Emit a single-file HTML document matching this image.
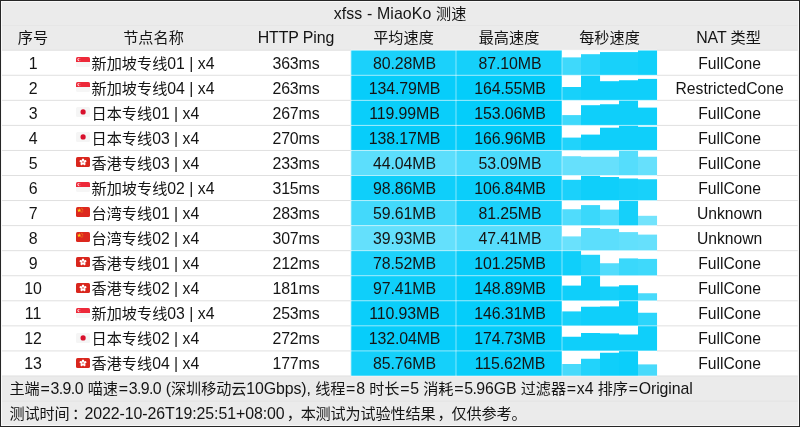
<!DOCTYPE html>
<html lang="zh"><head><meta charset="utf-8"><title>xfss - MiaoKo 测速</title>
<style>
html,body{margin:0;padding:0;}
body{width:800px;height:427px;overflow:hidden;background:#262626;position:relative;
font-family:"Liberation Sans","Noto Sans CJK SC",sans-serif;font-size:15.9px;letter-spacing:-0.1px;color:#141414;}
.c{font-size:15.15px;letter-spacing:0;}
#w{position:absolute;left:1px;top:1px;width:797.9px;height:424.8px;background:#f8f8f8;}
#g{position:absolute;left:1px;top:1px;right:1px;bottom:1px;background:#ebebeb;}
#tx{position:absolute;left:0;top:0;width:800px;height:427px;filter:blur(.3px);}
.t{position:absolute;white-space:nowrap;line-height:25px;height:25px;text-align:center;}
.l{text-align:left;}
.n{font-size:15.7px;letter-spacing:0;}
.nm{font-size:15.8px;letter-spacing:0;}
.ti{letter-spacing:0.12px;}
.f1{letter-spacing:-0.1px;}
.f1 .c{letter-spacing:-0.1px;}
.f1 i{font-style:normal;margin:0 .85px;}
.f1 b{font-weight:normal;margin:0 -.5px;}
.f2{letter-spacing:-0.07px;}
.f2 i{font-style:normal;margin-left:1px;position:relative;left:1px;}
.f2 b{font-weight:normal;position:relative;left:2.5px;}
.f2 .c{letter-spacing:-0.15px;}
.r{position:absolute;}
.fl{position:absolute;}
.hl{position:absolute;left:2px;right:2.2px;height:1px;background:#e0e0e0;}
</style></head><body><div id="w"><div id="g"></div></div>

<div id="tx">
<div class="t ti" style="left:0;width:800px;top:1px">xfss - MiaoKo <span class="c">测速</span></div>
<div class="t" style="left:0px;width:66px;top:25px"><span class="c">序号</span></div>
<div class="t" style="left:66px;width:175px;top:25px"><span class="c">节点名称</span></div>
<div class="t" style="left:241px;width:110px;top:25px">HTTP Ping</div>
<div class="t" style="left:351px;width:105px;top:25px"><span class="c">平均速度</span></div>
<div class="t" style="left:456px;width:106px;top:25px"><span class="c">最高速度</span></div>
<div class="t" style="left:562px;width:95px;top:25px"><span class="c">每秒速度</span></div>
<div class="t" style="left:657px;width:143px;top:25px">NAT <span class="c">类型</span></div>
<svg class="r" style="left:0;top:0" width="800" height="427" viewBox="0 0 800 427"><rect x="2" y="50.2" width="795.8" height="325.78" fill="#fff"/><rect x="350.8" y="50.20" width="105.2" height="25.06" fill="#1bd1fb"/><rect x="456" y="50.20" width="106" height="25.06" fill="#15d0fa"/><rect x="562.00" y="57.40" width="19.05" height="17.86" fill="#3fd9fb"/><rect x="581.00" y="54.20" width="19.05" height="21.06" fill="#29d4fb"/><rect x="600.00" y="52.10" width="19.05" height="23.16" fill="#18d1fa"/><rect x="619.00" y="52.10" width="19.05" height="23.16" fill="#18d1fa"/><rect x="638.00" y="50.20" width="19.05" height="25.06" fill="#12d0fa"/><rect x="350.8" y="75.26" width="105.2" height="25.06" fill="#07cdfa"/><rect x="456" y="75.26" width="106" height="25.06" fill="#04cdfa"/><rect x="562.00" y="87.00" width="19.05" height="13.32" fill="#18d1fa"/><rect x="581.00" y="75.26" width="19.05" height="25.06" fill="#0fcffa"/><rect x="600.00" y="81.20" width="19.05" height="19.12" fill="#0fcffa"/><rect x="619.00" y="80.25" width="19.05" height="20.07" fill="#0fcffa"/><rect x="638.00" y="78.90" width="19.05" height="21.42" fill="#0fcffa"/><rect x="350.8" y="100.32" width="105.2" height="25.06" fill="#0acefa"/><rect x="456" y="100.32" width="106" height="25.06" fill="#04cdfa"/><rect x="562.00" y="115.10" width="19.05" height="10.28" fill="#3fd9fb"/><rect x="581.00" y="105.20" width="19.05" height="20.18" fill="#0fcffa"/><rect x="600.00" y="104.25" width="19.05" height="21.13" fill="#0fcffa"/><rect x="619.00" y="100.32" width="19.05" height="25.06" fill="#0fcffa"/><rect x="638.00" y="107.60" width="19.05" height="17.78" fill="#0fcffa"/><rect x="350.8" y="125.38" width="105.2" height="25.06" fill="#07cdfa"/><rect x="456" y="125.38" width="106" height="25.06" fill="#04cdfa"/><rect x="562.00" y="137.60" width="19.05" height="12.84" fill="#21d3fb"/><rect x="581.00" y="134.60" width="19.05" height="15.84" fill="#0fcffa"/><rect x="600.00" y="127.70" width="19.05" height="22.74" fill="#0fcffa"/><rect x="619.00" y="125.38" width="19.05" height="25.06" fill="#0fcffa"/><rect x="638.00" y="126.75" width="19.05" height="23.69" fill="#0fcffa"/><rect x="350.8" y="150.44" width="105.2" height="25.06" fill="#5cdefc"/><rect x="456" y="150.44" width="106" height="25.06" fill="#4ddbfc"/><rect x="562.00" y="156.20" width="19.05" height="19.30" fill="#66e0fc"/><rect x="581.00" y="156.75" width="19.05" height="18.75" fill="#66e0fc"/><rect x="600.00" y="156.75" width="19.05" height="18.75" fill="#66e0fc"/><rect x="619.00" y="150.44" width="19.05" height="25.06" fill="#55ddfc"/><rect x="638.00" y="156.75" width="19.05" height="18.75" fill="#66e0fc"/><rect x="350.8" y="175.50" width="105.2" height="25.06" fill="#0fcffa"/><rect x="456" y="175.50" width="106" height="25.06" fill="#0bcefa"/><rect x="562.00" y="179.80" width="19.05" height="20.76" fill="#1bd1fb"/><rect x="581.00" y="175.50" width="19.05" height="25.06" fill="#0fcffa"/><rect x="600.00" y="177.00" width="19.05" height="23.56" fill="#0fcffa"/><rect x="619.00" y="178.50" width="19.05" height="22.06" fill="#15d0fa"/><rect x="638.00" y="179.25" width="19.05" height="21.31" fill="#18d1fa"/><rect x="350.8" y="200.56" width="105.2" height="25.06" fill="#43d9fb"/><rect x="456" y="200.56" width="106" height="25.06" fill="#1bd1fb"/><rect x="562.00" y="209.25" width="19.05" height="16.37" fill="#50dcfc"/><rect x="581.00" y="205.10" width="19.05" height="20.52" fill="#3ad8fb"/><rect x="600.00" y="209.60" width="19.05" height="16.02" fill="#50dcfc"/><rect x="619.00" y="200.56" width="19.05" height="25.06" fill="#15d0fa"/><rect x="638.00" y="215.80" width="19.05" height="9.82" fill="#72e3fc"/><rect x="350.8" y="225.62" width="105.2" height="25.06" fill="#64e0fc"/><rect x="456" y="225.62" width="106" height="25.06" fill="#57ddfc"/><rect x="562.00" y="236.40" width="19.05" height="14.28" fill="#6ae1fc"/><rect x="581.00" y="228.00" width="19.05" height="22.68" fill="#5cdefc"/><rect x="600.00" y="228.90" width="19.05" height="21.78" fill="#5cdefc"/><rect x="619.00" y="232.10" width="19.05" height="18.58" fill="#62e0fc"/><rect x="638.00" y="234.60" width="19.05" height="16.08" fill="#66e0fc"/><rect x="350.8" y="250.68" width="105.2" height="25.06" fill="#1ed2fb"/><rect x="456" y="250.68" width="106" height="25.06" fill="#0ccefa"/><rect x="562.00" y="250.68" width="19.05" height="25.06" fill="#0fcffa"/><rect x="581.00" y="254.80" width="19.05" height="20.94" fill="#22d3fb"/><rect x="600.00" y="263.25" width="19.05" height="12.49" fill="#52dcfc"/><rect x="619.00" y="258.40" width="19.05" height="17.34" fill="#3ad8fb"/><rect x="638.00" y="258.90" width="19.05" height="16.84" fill="#3fd9fb"/><rect x="350.8" y="275.74" width="105.2" height="25.06" fill="#0fcffa"/><rect x="456" y="275.74" width="106" height="25.06" fill="#04cdfa"/><rect x="562.00" y="285.60" width="19.05" height="15.20" fill="#0fcffa"/><rect x="581.00" y="275.74" width="19.05" height="25.06" fill="#0fcffa"/><rect x="600.00" y="286.50" width="19.05" height="14.30" fill="#15d0fa"/><rect x="619.00" y="285.20" width="19.05" height="15.60" fill="#0fcffa"/><rect x="638.00" y="293.25" width="19.05" height="7.55" fill="#48dafb"/><rect x="350.8" y="300.80" width="105.2" height="25.06" fill="#0bcefa"/><rect x="456" y="300.80" width="106" height="25.06" fill="#04cdfa"/><rect x="562.00" y="311.40" width="19.05" height="14.46" fill="#18d1fa"/><rect x="581.00" y="306.75" width="19.05" height="19.11" fill="#0fcffa"/><rect x="600.00" y="306.40" width="19.05" height="19.46" fill="#0fcffa"/><rect x="619.00" y="300.80" width="19.05" height="25.06" fill="#0fcffa"/><rect x="638.00" y="312.75" width="19.05" height="13.11" fill="#2cd5fb"/><rect x="350.8" y="325.86" width="105.2" height="25.06" fill="#07cdfa"/><rect x="456" y="325.86" width="106" height="25.06" fill="#04cdfa"/><rect x="562.00" y="336.75" width="19.05" height="14.17" fill="#0fcffa"/><rect x="581.00" y="333.00" width="19.05" height="17.92" fill="#0fcffa"/><rect x="600.00" y="333.40" width="19.05" height="17.52" fill="#0fcffa"/><rect x="619.00" y="334.50" width="19.05" height="16.42" fill="#0fcffa"/><rect x="638.00" y="325.86" width="19.05" height="25.06" fill="#0fcffa"/><rect x="350.8" y="350.92" width="105.2" height="25.06" fill="#15d0fa"/><rect x="456" y="350.92" width="106" height="25.06" fill="#0acefa"/><rect x="562.00" y="364.00" width="19.05" height="11.98" fill="#48dafb"/><rect x="581.00" y="358.75" width="19.05" height="17.23" fill="#22d3fb"/><rect x="600.00" y="352.75" width="19.05" height="23.23" fill="#0fcffa"/><rect x="619.00" y="350.92" width="19.05" height="25.06" fill="#0bcefa"/><rect x="638.00" y="364.40" width="19.05" height="11.58" fill="#48dafb"/><rect x="2" y="49.70" width="349" height="1" fill="#e0e0e0"/><rect x="657" y="49.70" width="140.79999999999995" height="1" fill="#e0e0e0"/><rect x="351" y="49.70" width="306" height="1" fill="#fff" fill-opacity=".5"/><rect x="2" y="74.76" width="349" height="1" fill="#e0e0e0"/><rect x="657" y="74.76" width="140.79999999999995" height="1" fill="#e0e0e0"/><rect x="351" y="74.76" width="306" height="1" fill="#fff" fill-opacity=".5"/><rect x="2" y="99.82" width="349" height="1" fill="#e0e0e0"/><rect x="657" y="99.82" width="140.79999999999995" height="1" fill="#e0e0e0"/><rect x="351" y="99.82" width="306" height="1" fill="#fff" fill-opacity=".5"/><rect x="2" y="124.88" width="349" height="1" fill="#e0e0e0"/><rect x="657" y="124.88" width="140.79999999999995" height="1" fill="#e0e0e0"/><rect x="351" y="124.88" width="306" height="1" fill="#fff" fill-opacity=".5"/><rect x="2" y="149.94" width="349" height="1" fill="#e0e0e0"/><rect x="657" y="149.94" width="140.79999999999995" height="1" fill="#e0e0e0"/><rect x="351" y="149.94" width="306" height="1" fill="#fff" fill-opacity=".5"/><rect x="2" y="175.00" width="349" height="1" fill="#e0e0e0"/><rect x="657" y="175.00" width="140.79999999999995" height="1" fill="#e0e0e0"/><rect x="351" y="175.00" width="306" height="1" fill="#fff" fill-opacity=".5"/><rect x="2" y="200.06" width="349" height="1" fill="#e0e0e0"/><rect x="657" y="200.06" width="140.79999999999995" height="1" fill="#e0e0e0"/><rect x="351" y="200.06" width="306" height="1" fill="#fff" fill-opacity=".5"/><rect x="2" y="225.12" width="349" height="1" fill="#e0e0e0"/><rect x="657" y="225.12" width="140.79999999999995" height="1" fill="#e0e0e0"/><rect x="351" y="225.12" width="306" height="1" fill="#fff" fill-opacity=".5"/><rect x="2" y="250.18" width="349" height="1" fill="#e0e0e0"/><rect x="657" y="250.18" width="140.79999999999995" height="1" fill="#e0e0e0"/><rect x="351" y="250.18" width="306" height="1" fill="#fff" fill-opacity=".5"/><rect x="2" y="275.24" width="349" height="1" fill="#e0e0e0"/><rect x="657" y="275.24" width="140.79999999999995" height="1" fill="#e0e0e0"/><rect x="351" y="275.24" width="306" height="1" fill="#fff" fill-opacity=".5"/><rect x="2" y="300.30" width="349" height="1" fill="#e0e0e0"/><rect x="657" y="300.30" width="140.79999999999995" height="1" fill="#e0e0e0"/><rect x="351" y="300.30" width="306" height="1" fill="#fff" fill-opacity=".5"/><rect x="2" y="325.36" width="349" height="1" fill="#e0e0e0"/><rect x="657" y="325.36" width="140.79999999999995" height="1" fill="#e0e0e0"/><rect x="351" y="325.36" width="306" height="1" fill="#fff" fill-opacity=".5"/><rect x="2" y="350.42" width="349" height="1" fill="#e0e0e0"/><rect x="657" y="350.42" width="140.79999999999995" height="1" fill="#e0e0e0"/><rect x="351" y="350.42" width="306" height="1" fill="#fff" fill-opacity=".5"/><rect x="2" y="375.48" width="349" height="1" fill="#e0e0e0"/><rect x="657" y="375.48" width="140.79999999999995" height="1" fill="#e0e0e0"/><rect x="351" y="375.48" width="306" height="1" fill="#fff" fill-opacity=".5"/><rect x="350.5" y="50.2" width="1" height="325.78" fill="#fff" fill-opacity=".5"/><rect x="455.5" y="50.2" width="1" height="325.78" fill="#fff" fill-opacity=".5"/><rect x="561.5" y="50.2" width="1" height="325.78" fill="#fff" fill-opacity=".5"/><rect x="2" y="24.9" width="795.8" height="1" fill="#e6e6e6"/><rect x="2" y="400.6" width="795.8" height="1" fill="#e3e3e3"/></svg>
<div class="t" style="left:0px;width:66px;top:50.70px">1</div>
<svg class="fl" style="left:75.6px;top:57.0px" width="14" height="10" viewBox="0 0 14 10"><rect width="14" height="10" rx="1.6" fill="#f6f6f6"/><path d="M0 5V1.6Q0 0 1.6 0H12.4Q14 0 14 1.6V5Z" fill="#ed2939"/><circle cx="3.1" cy="2.6" r="1.6" fill="#fff"/><circle cx="3.8" cy="2.6" r="1.4" fill="#ed2939"/></svg>
<div class="t l nm" style="left:91.6px;top:50.70px"><span class="c">新加坡专线</span>01 | x4</div>
<div class="t" style="left:241px;width:110px;top:50.70px">363ms</div>
<div class="t" style="left:352px;width:105px;top:50.70px">80.28MB</div>
<div class="t" style="left:457px;width:106px;top:50.70px">87.10MB</div>
<div class="t n" style="left:658.6px;width:142px;top:50.70px">FullCone</div>
<div class="t" style="left:0px;width:66px;top:75.76px">2</div>
<svg class="fl" style="left:75.6px;top:82.06px" width="14" height="10" viewBox="0 0 14 10"><rect width="14" height="10" rx="1.6" fill="#f6f6f6"/><path d="M0 5V1.6Q0 0 1.6 0H12.4Q14 0 14 1.6V5Z" fill="#ed2939"/><circle cx="3.1" cy="2.6" r="1.6" fill="#fff"/><circle cx="3.8" cy="2.6" r="1.4" fill="#ed2939"/></svg>
<div class="t l nm" style="left:91.6px;top:75.76px"><span class="c">新加坡专线</span>04 | x4</div>
<div class="t" style="left:241px;width:110px;top:75.76px">263ms</div>
<div class="t" style="left:352px;width:105px;top:75.76px">134.79MB</div>
<div class="t" style="left:457px;width:106px;top:75.76px">164.55MB</div>
<div class="t n" style="left:658.6px;width:142px;top:75.76px">RestrictedCone</div>
<div class="t" style="left:0px;width:66px;top:100.82px">3</div>
<svg class="fl" style="left:75.6px;top:107.12px" width="14" height="10" viewBox="0 0 14 10"><rect width="14" height="10" rx="1.6" fill="#f5f5f5"/><circle cx="7.1" cy="4.9" r="2.6" fill="#d8102c"/></svg>
<div class="t l nm" style="left:91.6px;top:100.82px"><span class="c">日本专线</span>01 | x4</div>
<div class="t" style="left:241px;width:110px;top:100.82px">267ms</div>
<div class="t" style="left:352px;width:105px;top:100.82px">119.99MB</div>
<div class="t" style="left:457px;width:106px;top:100.82px">153.06MB</div>
<div class="t n" style="left:658.6px;width:142px;top:100.82px">FullCone</div>
<div class="t" style="left:0px;width:66px;top:125.88px">4</div>
<svg class="fl" style="left:75.6px;top:132.18px" width="14" height="10" viewBox="0 0 14 10"><rect width="14" height="10" rx="1.6" fill="#f5f5f5"/><circle cx="7.1" cy="4.9" r="2.6" fill="#d8102c"/></svg>
<div class="t l nm" style="left:91.6px;top:125.88px"><span class="c">日本专线</span>03 | x4</div>
<div class="t" style="left:241px;width:110px;top:125.88px">270ms</div>
<div class="t" style="left:352px;width:105px;top:125.88px">138.17MB</div>
<div class="t" style="left:457px;width:106px;top:125.88px">166.96MB</div>
<div class="t n" style="left:658.6px;width:142px;top:125.88px">FullCone</div>
<div class="t" style="left:0px;width:66px;top:150.94px">5</div>
<svg class="fl" style="left:75.6px;top:157.24px" width="14" height="10" viewBox="0 0 14 10"><rect width="14" height="10" rx="1.6" fill="#d9261d"/><g fill="#fff" transform="translate(7 5)"><ellipse cx="0" cy="-1.9" rx="1.25" ry="1.7"/><ellipse cx="0" cy="-1.9" rx="1.25" ry="1.7" transform="rotate(72)"/><ellipse cx="0" cy="-1.9" rx="1.25" ry="1.7" transform="rotate(144)"/><ellipse cx="0" cy="-1.9" rx="1.25" ry="1.7" transform="rotate(216)"/><ellipse cx="0" cy="-1.9" rx="1.25" ry="1.7" transform="rotate(288)"/></g><circle cx="7" cy="5" r="0.7" fill="#d9261d"/></svg>
<div class="t l nm" style="left:91.6px;top:150.94px"><span class="c">香港专线</span>03 | x4</div>
<div class="t" style="left:241px;width:110px;top:150.94px">233ms</div>
<div class="t" style="left:352px;width:105px;top:150.94px">44.04MB</div>
<div class="t" style="left:457px;width:106px;top:150.94px">53.09MB</div>
<div class="t n" style="left:658.6px;width:142px;top:150.94px">FullCone</div>
<div class="t" style="left:0px;width:66px;top:176.00px">6</div>
<svg class="fl" style="left:75.6px;top:182.3px" width="14" height="10" viewBox="0 0 14 10"><rect width="14" height="10" rx="1.6" fill="#f6f6f6"/><path d="M0 5V1.6Q0 0 1.6 0H12.4Q14 0 14 1.6V5Z" fill="#ed2939"/><circle cx="3.1" cy="2.6" r="1.6" fill="#fff"/><circle cx="3.8" cy="2.6" r="1.4" fill="#ed2939"/></svg>
<div class="t l nm" style="left:91.6px;top:176.00px"><span class="c">新加坡专线</span>02 | x4</div>
<div class="t" style="left:241px;width:110px;top:176.00px">315ms</div>
<div class="t" style="left:352px;width:105px;top:176.00px">98.86MB</div>
<div class="t" style="left:457px;width:106px;top:176.00px">106.84MB</div>
<div class="t n" style="left:658.6px;width:142px;top:176.00px">FullCone</div>
<div class="t" style="left:0px;width:66px;top:201.06px">7</div>
<svg class="fl" style="left:75.6px;top:207.36px" width="14" height="10" viewBox="0 0 14 10"><rect width="14" height="10" rx="1.6" fill="#dc281e"/><path d="M3.2 1.1l.55 1.6h1.7l-1.38 1 .53 1.62-1.4-1-1.4 1 .53-1.62-1.38-1h1.7z" fill="#fbd116"/><circle cx="5.9" cy="1.3" r=".45" fill="#fbd116"/><circle cx="6.8" cy="2.4" r=".45" fill="#fbd116"/><circle cx="6.8" cy="3.9" r=".45" fill="#fbd116"/><circle cx="5.9" cy="5" r=".45" fill="#fbd116"/></svg>
<div class="t l nm" style="left:91.6px;top:201.06px"><span class="c">台湾专线</span>01 | x4</div>
<div class="t" style="left:241px;width:110px;top:201.06px">283ms</div>
<div class="t" style="left:352px;width:105px;top:201.06px">59.61MB</div>
<div class="t" style="left:457px;width:106px;top:201.06px">81.25MB</div>
<div class="t n" style="left:658.6px;width:142px;top:201.06px">Unknown</div>
<div class="t" style="left:0px;width:66px;top:226.12px">8</div>
<svg class="fl" style="left:75.6px;top:232.42px" width="14" height="10" viewBox="0 0 14 10"><rect width="14" height="10" rx="1.6" fill="#dc281e"/><path d="M3.2 1.1l.55 1.6h1.7l-1.38 1 .53 1.62-1.4-1-1.4 1 .53-1.62-1.38-1h1.7z" fill="#fbd116"/><circle cx="5.9" cy="1.3" r=".45" fill="#fbd116"/><circle cx="6.8" cy="2.4" r=".45" fill="#fbd116"/><circle cx="6.8" cy="3.9" r=".45" fill="#fbd116"/><circle cx="5.9" cy="5" r=".45" fill="#fbd116"/></svg>
<div class="t l nm" style="left:91.6px;top:226.12px"><span class="c">台湾专线</span>02 | x4</div>
<div class="t" style="left:241px;width:110px;top:226.12px">307ms</div>
<div class="t" style="left:352px;width:105px;top:226.12px">39.93MB</div>
<div class="t" style="left:457px;width:106px;top:226.12px">47.41MB</div>
<div class="t n" style="left:658.6px;width:142px;top:226.12px">Unknown</div>
<div class="t" style="left:0px;width:66px;top:251.18px">9</div>
<svg class="fl" style="left:75.6px;top:257.48px" width="14" height="10" viewBox="0 0 14 10"><rect width="14" height="10" rx="1.6" fill="#d9261d"/><g fill="#fff" transform="translate(7 5)"><ellipse cx="0" cy="-1.9" rx="1.25" ry="1.7"/><ellipse cx="0" cy="-1.9" rx="1.25" ry="1.7" transform="rotate(72)"/><ellipse cx="0" cy="-1.9" rx="1.25" ry="1.7" transform="rotate(144)"/><ellipse cx="0" cy="-1.9" rx="1.25" ry="1.7" transform="rotate(216)"/><ellipse cx="0" cy="-1.9" rx="1.25" ry="1.7" transform="rotate(288)"/></g><circle cx="7" cy="5" r="0.7" fill="#d9261d"/></svg>
<div class="t l nm" style="left:91.6px;top:251.18px"><span class="c">香港专线</span>01 | x4</div>
<div class="t" style="left:241px;width:110px;top:251.18px">212ms</div>
<div class="t" style="left:352px;width:105px;top:251.18px">78.52MB</div>
<div class="t" style="left:457px;width:106px;top:251.18px">101.25MB</div>
<div class="t n" style="left:658.6px;width:142px;top:251.18px">FullCone</div>
<div class="t" style="left:0px;width:66px;top:276.24px">10</div>
<svg class="fl" style="left:75.6px;top:282.54px" width="14" height="10" viewBox="0 0 14 10"><rect width="14" height="10" rx="1.6" fill="#d9261d"/><g fill="#fff" transform="translate(7 5)"><ellipse cx="0" cy="-1.9" rx="1.25" ry="1.7"/><ellipse cx="0" cy="-1.9" rx="1.25" ry="1.7" transform="rotate(72)"/><ellipse cx="0" cy="-1.9" rx="1.25" ry="1.7" transform="rotate(144)"/><ellipse cx="0" cy="-1.9" rx="1.25" ry="1.7" transform="rotate(216)"/><ellipse cx="0" cy="-1.9" rx="1.25" ry="1.7" transform="rotate(288)"/></g><circle cx="7" cy="5" r="0.7" fill="#d9261d"/></svg>
<div class="t l nm" style="left:91.6px;top:276.24px"><span class="c">香港专线</span>02 | x4</div>
<div class="t" style="left:241px;width:110px;top:276.24px">181ms</div>
<div class="t" style="left:352px;width:105px;top:276.24px">97.41MB</div>
<div class="t" style="left:457px;width:106px;top:276.24px">148.89MB</div>
<div class="t n" style="left:658.6px;width:142px;top:276.24px">FullCone</div>
<div class="t" style="left:0px;width:66px;top:301.30px">11</div>
<svg class="fl" style="left:75.6px;top:307.6px" width="14" height="10" viewBox="0 0 14 10"><rect width="14" height="10" rx="1.6" fill="#f6f6f6"/><path d="M0 5V1.6Q0 0 1.6 0H12.4Q14 0 14 1.6V5Z" fill="#ed2939"/><circle cx="3.1" cy="2.6" r="1.6" fill="#fff"/><circle cx="3.8" cy="2.6" r="1.4" fill="#ed2939"/></svg>
<div class="t l nm" style="left:91.6px;top:301.30px"><span class="c">新加坡专线</span>03 | x4</div>
<div class="t" style="left:241px;width:110px;top:301.30px">253ms</div>
<div class="t" style="left:352px;width:105px;top:301.30px">110.93MB</div>
<div class="t" style="left:457px;width:106px;top:301.30px">146.31MB</div>
<div class="t n" style="left:658.6px;width:142px;top:301.30px">FullCone</div>
<div class="t" style="left:0px;width:66px;top:326.36px">12</div>
<svg class="fl" style="left:75.6px;top:332.66px" width="14" height="10" viewBox="0 0 14 10"><rect width="14" height="10" rx="1.6" fill="#f5f5f5"/><circle cx="7.1" cy="4.9" r="2.6" fill="#d8102c"/></svg>
<div class="t l nm" style="left:91.6px;top:326.36px"><span class="c">日本专线</span>02 | x4</div>
<div class="t" style="left:241px;width:110px;top:326.36px">272ms</div>
<div class="t" style="left:352px;width:105px;top:326.36px">132.04MB</div>
<div class="t" style="left:457px;width:106px;top:326.36px">174.73MB</div>
<div class="t n" style="left:658.6px;width:142px;top:326.36px">FullCone</div>
<div class="t" style="left:0px;width:66px;top:351.42px">13</div>
<svg class="fl" style="left:75.6px;top:357.72px" width="14" height="10" viewBox="0 0 14 10"><rect width="14" height="10" rx="1.6" fill="#d9261d"/><g fill="#fff" transform="translate(7 5)"><ellipse cx="0" cy="-1.9" rx="1.25" ry="1.7"/><ellipse cx="0" cy="-1.9" rx="1.25" ry="1.7" transform="rotate(72)"/><ellipse cx="0" cy="-1.9" rx="1.25" ry="1.7" transform="rotate(144)"/><ellipse cx="0" cy="-1.9" rx="1.25" ry="1.7" transform="rotate(216)"/><ellipse cx="0" cy="-1.9" rx="1.25" ry="1.7" transform="rotate(288)"/></g><circle cx="7" cy="5" r="0.7" fill="#d9261d"/></svg>
<div class="t l nm" style="left:91.6px;top:351.42px"><span class="c">香港专线</span>04 | x4</div>
<div class="t" style="left:241px;width:110px;top:351.42px">177ms</div>
<div class="t" style="left:352px;width:105px;top:351.42px">85.76MB</div>
<div class="t" style="left:457px;width:106px;top:351.42px">115.62MB</div>
<div class="t n" style="left:658.6px;width:142px;top:351.42px">FullCone</div>
<div class="t l f1" style="left:9.5px;top:376.2px"><span class="c">主端</span><i>=</i>3<b>.</b>9<b>.</b>0 <span class="c">喵速</span><i>=</i>3<b>.</b>9<b>.</b>0 (<span class="c">深圳移动云</span>10Gbps), <span class="c">线程</span><i>=</i>8 <span class="c">时长</span><i>=</i>5 <span class="c">消耗</span><i>=</i>5<b>.</b>96GB <span class="c">过滤器</span><i>=</i>x4 <span class="c">排序</span><i>=</i>Original</div>
<div class="t l f2" style="left:9.5px;top:401.2px"><span class="c">测试时间<b>：</b></span>2022-10-26T19:25:51+08:00<span class="c"><i>，</i>本测试为试验性结果<i>，</i>仅供参考。</span></div>
</div>
</body></html>
